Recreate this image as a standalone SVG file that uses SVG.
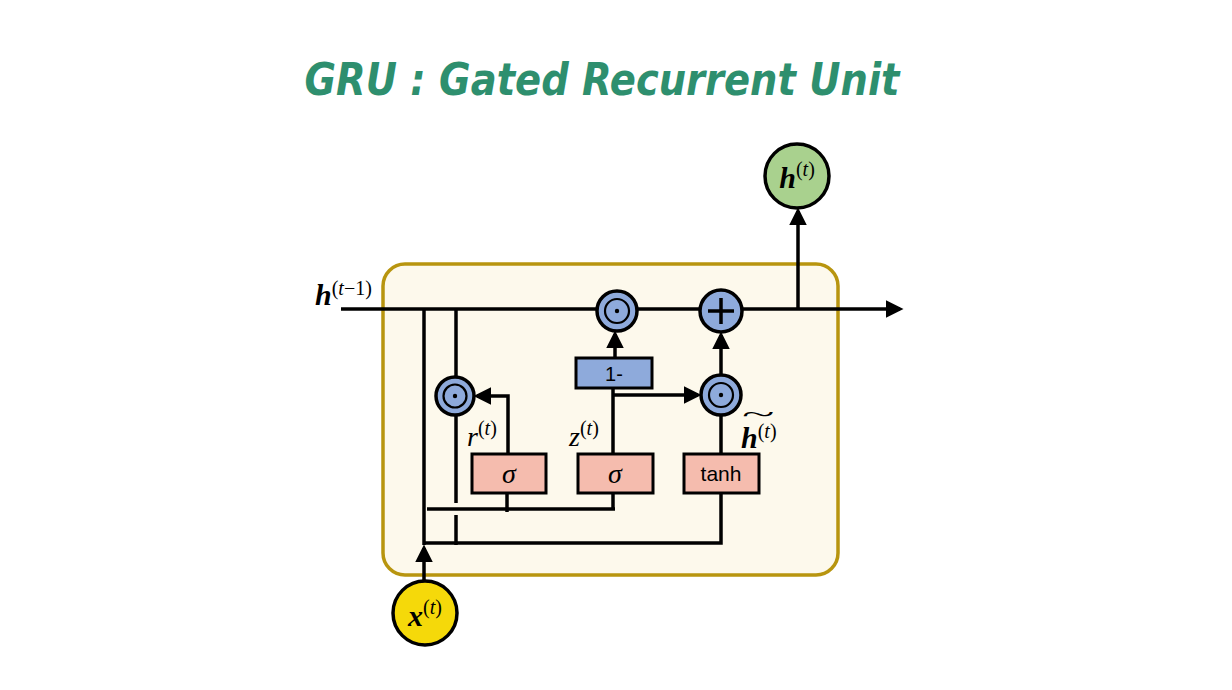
<svg xmlns="http://www.w3.org/2000/svg" width="1232" height="690" viewBox="0 0 1232 690">
<style>
.ln{stroke:#000;stroke-width:3.5;fill:none}
.op{fill:#8eaadb;stroke:#000;stroke-width:3.5}
.ring{fill:none;stroke:#000;stroke-width:2.2}
.pk{fill:#f5bcae;stroke:#000;stroke-width:3}
.bl{fill:#8eaadb;stroke:#000;stroke-width:3}
.m{font-family:"Liberation Serif","DejaVu Serif",serif}
.mb{font-family:"Liberation Serif","DejaVu Serif",serif;font-weight:bold;font-style:italic}
.mi{font-family:"Liberation Serif","DejaVu Serif",serif;font-style:italic}
.sans{font-family:"Liberation Sans",Arial,sans-serif}
</style>
<defs>
<marker id="ah" viewBox="0 0 10 10" refX="8" refY="5" markerWidth="5" markerHeight="5" markerUnits="strokeWidth" orient="auto">
<path d="M0,0 L10,5 L0,10 z" fill="#000"/>
</marker>
</defs>
<rect width="1232" height="690" fill="#fff"/>
<text x="602" y="95" text-anchor="middle" font-family="'DejaVu Sans',sans-serif" font-weight="bold" font-style="italic" font-size="44" fill="#2e8f6e" textLength="595" lengthAdjust="spacingAndGlyphs">GRU : Gated Recurrent Unit</text>
<g id="cell">
<rect x="383" y="264" width="455" height="311" rx="22" fill="#fdf9ec" stroke="#b8950f" stroke-width="3.5"/>
</g>
<g id="connectors">
<path class="ln" d="M341,309 H900" marker-end="url(#ah)"/>
<path class="ln" d="M424,309 V545"/>
<path class="ln" d="M456,309 V377"/>
<path class="ln" d="M456,415 V503 M456,515 V545"/>
<path class="ln" d="M424,543 H721 V493"/>
<path class="ln" d="M427,509 H615"/>
<path class="ln" d="M507,493 V512"/>
<path class="ln" d="M613,493 V509"/>
<path class="ln" d="M508,454 V396 H477" marker-end="url(#ah)"/>
<path class="ln" d="M613,454 V388"/>
<path class="ln" d="M613,395 H698" marker-end="url(#ah)"/>
<path class="ln" d="M615,358 V334" marker-end="url(#ah)"/>
<path class="ln" d="M721,376 V335" marker-end="url(#ah)"/>
<path class="ln" d="M721,454 V415"/>
<path class="ln" d="M798,309 V211" marker-end="url(#ah)"/>
<path class="ln" d="M424,581 V548" marker-end="url(#ah)"/>
</g>
<g id="mul-r">
<circle class="op" cx="455" cy="396" r="19"/>
<circle class="ring" cx="455" cy="396" r="11.5"/>
<circle cx="455" cy="396" r="2.2"/>
</g>
<g id="mul-top">
<circle class="op" cx="617" cy="311" r="20"/>
<circle class="ring" cx="617" cy="311" r="12"/>
<circle cx="617" cy="311" r="2.2"/>
</g>
<g id="mul-h">
<circle class="op" cx="721" cy="395" r="20"/>
<circle class="ring" cx="721" cy="395" r="12"/>
<circle cx="721" cy="395" r="2.2"/>
</g>
<g id="plus">
<circle class="op" cx="721" cy="311" r="21"/>
<path d="M708,311 H734 M721,298 V324" stroke="#000" stroke-width="3.5"/>
</g>
<g id="one-minus">
<rect class="bl" x="576" y="358" width="76" height="30"/>
<text class="sans" x="614" y="381" text-anchor="middle" font-size="20">1-</text>
</g>
<g id="sigma-r">
<rect class="pk" x="472" y="454" width="74" height="39"/>
<text class="mi" x="509" y="483" text-anchor="middle" font-size="28">σ</text>
</g>
<g id="sigma-z">
<rect class="pk" x="578" y="454" width="75" height="39"/>
<text class="mi" x="615" y="483" text-anchor="middle" font-size="28">σ</text>
</g>
<g id="tanh">
<rect class="pk" x="684" y="454" width="75" height="39"/>
<text class="sans" x="721" y="481" text-anchor="middle" font-size="21">tanh</text>
</g>
<g id="h-out">
<circle cx="797" cy="176" r="32" fill="#a9d18e" stroke="#000" stroke-width="3.5"/>
<text x="797" y="188" text-anchor="middle"><tspan class="mb" font-size="30">h</tspan><tspan class="m" font-size="20" dy="-12">(</tspan><tspan class="mi" font-size="20">t</tspan><tspan class="m" font-size="20">)</tspan></text>
</g>
<g id="x-in">
<circle cx="425" cy="613" r="32" fill="#f5d90a" stroke="#000" stroke-width="3.5"/>
<text x="425" y="626" text-anchor="middle"><tspan class="mb" font-size="30">x</tspan><tspan class="m" font-size="20" dy="-12">(</tspan><tspan class="mi" font-size="20">t</tspan><tspan class="m" font-size="20">)</tspan></text>
</g>
<g id="labels">
<text x="315" y="305"><tspan class="mb" font-size="30">h</tspan><tspan class="m" font-size="20" dy="-10">(</tspan><tspan class="mi" font-size="20">t</tspan><tspan class="m" font-size="20">−1)</tspan></text>
<text x="467" y="446"><tspan class="mi" font-size="28">r</tspan><tspan class="m" font-size="20" dy="-11">(</tspan><tspan class="mi" font-size="20">t</tspan><tspan class="m" font-size="20">)</tspan></text>
<text x="569" y="446"><tspan class="mi" font-size="28">z</tspan><tspan class="m" font-size="20" dy="-11">(</tspan><tspan class="mi" font-size="20">t</tspan><tspan class="m" font-size="20">)</tspan></text>
<text x="741" y="448"><tspan class="mb" font-size="30">h</tspan><tspan class="m" font-size="20" dy="-10">(</tspan><tspan class="mi" font-size="20">t</tspan><tspan class="m" font-size="20">)</tspan></text>
<text class="m" x="0" y="0" font-size="24" transform="translate(742,422) scale(2.5,1)">~</text>
</g>
</svg>
